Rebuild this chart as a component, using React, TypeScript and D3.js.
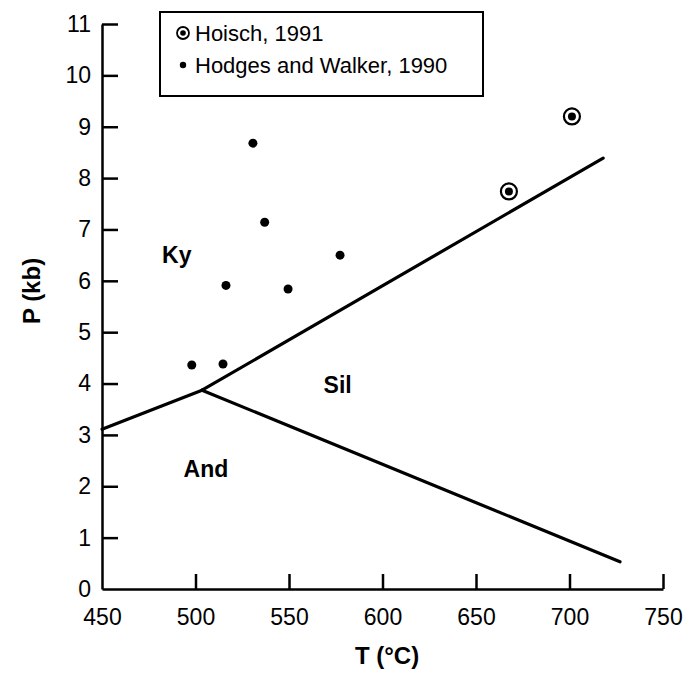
import { useEffect, useRef } from "react";
import * as d3 from "d3";

// temperature (°C) and pressure (kb) values
const xTicks = [450, 500, 550, 600, 650, 700, 750];
const yTicks = [0, 1, 2, 3, 4, 5, 6, 7, 8, 9, 10, 11];

const hoischT = [667.6, 701.3];
const hoischP = [7.74, 9.2];

const hodgesT = [498, 514.7, 516.3, 549.5, 530.7, 537, 577.3];
const hodgesP = [4.36, 4.38, 5.91, 5.84, 8.68, 7.14, 6.5];

// phase boundaries, each from the triple point outwards
const kyAndT = [450, 503.5];
const kyAndP = [3.11, 3.87];
const kySilT = [503.5, 718];
const kySilP = [3.87, 8.39];
const andSilT = [503.5, 727];
const andSilP = [3.87, 0.53];

const fieldNames = ["Ky", "Sil", "And"];
const fieldT = [490, 576, 505.6];
const fieldP = [6.5, 3.97, 2.35];

const legendLabels = ["Hoisch, 1991", "Hodges and Walker, 1990"];

const FONT = "'Liberation Sans', Arial, Helvetica, sans-serif";

const App = () => {
  const svgRef = useRef<SVGSVGElement>(null);

  useEffect(() => {
    const svg = d3.select(svgRef.current);
    svg.selectAll("*").remove();

    const x = d3.scaleLinear().domain([450, 750]).range([102, 663]);
    const y = d3.scaleLinear().domain([0, 11]).range([589, 24]);

    // axes, ticks pointing inward
    const xAxis = svg
      .append("g")
      .attr("transform", `translate(0,${y(0)})`)
      .call(
        d3
          .axisBottom(x)
          .tickValues(xTicks)
          .tickSizeInner(-15)
          .tickSizeOuter(0)
          .tickPadding(20)
          .tickFormat(d3.format("d"))
      );

    const yAxis = svg
      .append("g")
      .attr("transform", `translate(${x(450)},0)`)
      .call(
        d3
          .axisLeft(y)
          .tickValues(yTicks)
          .tickSizeInner(-16)
          .tickSizeOuter(0)
          .tickPadding(11)
          .tickFormat(d3.format("d"))
      );

    [xAxis, yAxis].forEach((a) => {
      a.select(".domain").attr("stroke", "#000").attr("stroke-width", 2.5);
      a.selectAll(".tick line").attr("stroke", "#000").attr("stroke-width", 2.5);
      a.selectAll(".tick text")
        .attr("fill", "#000")
        .style("font-family", FONT)
        .style("font-size", "23px");
    });
    // the 450 and 0 ticks sit on the other axis
    xAxis.selectAll(".tick line").filter((d) => d === 450).remove();
    yAxis.selectAll(".tick line").filter((d) => d === 0).remove();

    // axis titles
    svg
      .append("text")
      .attr("x", 387)
      .attr("y", 664)
      .attr("text-anchor", "middle")
      .style("font-family", FONT)
      .style("font-size", "24px")
      .style("font-weight", "bold")
      .text("T (°C)");

    svg
      .append("text")
      .attr("transform", "translate(40,291) rotate(-90)")
      .attr("text-anchor", "middle")
      .style("font-family", FONT)
      .style("font-size", "24px")
      .style("font-weight", "bold")
      .text("P (kb)");

    // phase boundaries
    const boundaries = [
      [kyAndT, kyAndP],
      [kySilT, kySilP],
      [andSilT, andSilP],
    ];
    boundaries.forEach(([ts, ps]) => {
      const pts: [number, number][] = ts.map((t, i) => [x(t), y(ps[i])]);
      svg
        .append("path")
        .attr("d", d3.line()(pts))
        .attr("fill", "none")
        .attr("stroke", "#000")
        .attr("stroke-width", 3.2)
        .attr("stroke-linecap", "round");
    });

    // field labels
    svg
      .selectAll(".field")
      .data(fieldNames)
      .enter()
      .append("text")
      .attr("class", "field")
      .attr("x", (d, i) => x(fieldT[i]))
      .attr("y", (d, i) => y(fieldP[i]))
      .attr("dy", "0.36em")
      .attr("text-anchor", "middle")
      .style("font-family", FONT)
      .style("font-size", "23px")
      .style("font-weight", "bold")
      .text((d) => d);

    // Hodges and Walker points
    svg
      .selectAll(".hw")
      .data(hodgesT)
      .enter()
      .append("circle")
      .attr("class", "hw")
      .attr("cx", (d) => x(d))
      .attr("cy", (d, i) => y(hodgesP[i]))
      .attr("r", 4.5)
      .attr("fill", "#000");

    // Hoisch points (ringed dots)
    const hp = svg
      .selectAll(".hoisch")
      .data(hoischT)
      .enter()
      .append("g")
      .attr("class", "hoisch")
      .attr("transform", (d, i) => `translate(${x(d)},${y(hoischP[i])})`);
    hp.append("circle")
      .attr("r", 8)
      .attr("fill", "#fff")
      .attr("stroke", "#000")
      .attr("stroke-width", 2.2);
    hp.append("circle").attr("r", 4).attr("fill", "#000");

    // legend
    const legend = svg.append("g");
    legend
      .append("rect")
      .attr("x", 160)
      .attr("y", 12)
      .attr("width", 323)
      .attr("height", 84)
      .attr("fill", "#fff")
      .attr("stroke", "#000")
      .attr("stroke-width", 2);

    const lg = legend
      .selectAll(".legend-item")
      .data(legendLabels)
      .enter()
      .append("g")
      .attr("class", "legend-item")
      .attr("transform", (d, i) => `translate(183,${33 + i * 32})`);

    lg.filter((d, i) => i === 0)
      .append("circle")
      .attr("r", 6)
      .attr("fill", "#fff")
      .attr("stroke", "#000")
      .attr("stroke-width", 1.8);
    lg.filter((d, i) => i === 0).append("circle").attr("r", 2.8).attr("fill", "#000");
    lg.filter((d, i) => i === 1).append("circle").attr("r", 3.2).attr("fill", "#000");

    lg.append("text")
      .attr("x", 12)
      .attr("dy", "0.36em")
      .style("font-family", FONT)
      .style("font-size", "22px")
      .text((d) => d);
  }, []);

  return (
    <svg
      ref={svgRef}
      width={689}
      height={681}
      style={{ position: "absolute", left: 0, top: 0, background: "#fff" }}
    ></svg>
  );
};

export default App;
